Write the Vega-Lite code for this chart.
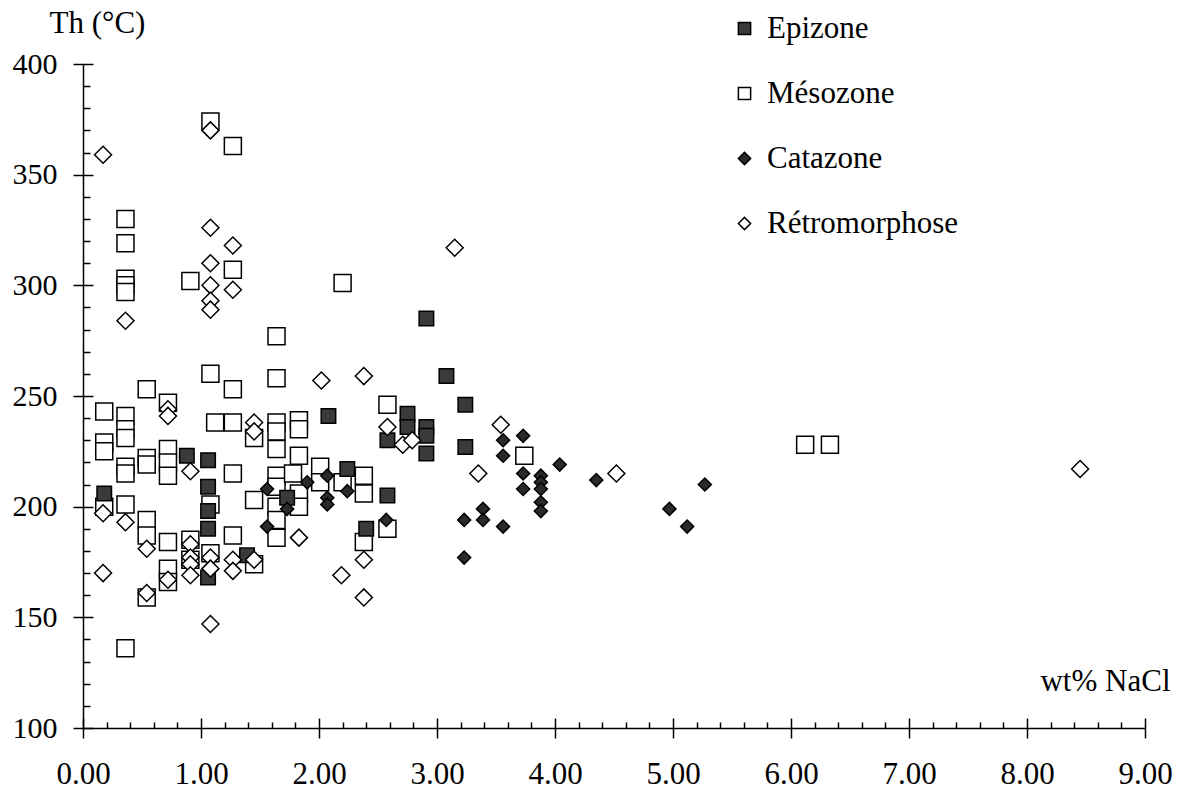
{
  "$schema": "https://vega.github.io/schema/vega-lite/v6.json",
  "width": 1062,
  "height": 664,
  "autosize": {"type": "none"},
  "padding": {"left": 83, "top": 64, "right": 36, "bottom": 64},
  "background": "white",
  "config": {
    "view": {"stroke": null},
    "font": "Liberation Serif",
    "axis": {"grid": false, "domainColor": "black", "domainWidth": 1.5, "tickColor": "black", "tickWidth": 1.5, "labelColor": "black", "labelFont": "Liberation Serif", "titleFont": "Liberation Serif", "titleColor": "black", "titleFontWeight": "normal", "labelOverlap": false, "labelFlush": false}
  },
  "data": {"values": [
    {"zone":"Mésozone","nacl":0.18,"th":243},{"zone":"Mésozone","nacl":0.18,"th":229},{"zone":"Mésozone","nacl":0.18,"th":225},{"zone":"Mésozone","nacl":0.18,"th":200},
    {"zone":"Mésozone","nacl":0.36,"th":330},{"zone":"Mésozone","nacl":0.36,"th":319},{"zone":"Mésozone","nacl":0.36,"th":303},{"zone":"Mésozone","nacl":0.36,"th":300},{"zone":"Mésozone","nacl":0.36,"th":297},{"zone":"Mésozone","nacl":0.36,"th":241},{"zone":"Mésozone","nacl":0.36,"th":235},{"zone":"Mésozone","nacl":0.36,"th":231},{"zone":"Mésozone","nacl":0.36,"th":218},{"zone":"Mésozone","nacl":0.36,"th":215},{"zone":"Mésozone","nacl":0.36,"th":201},{"zone":"Mésozone","nacl":0.36,"th":136},
    {"zone":"Mésozone","nacl":0.54,"th":253},{"zone":"Mésozone","nacl":0.54,"th":222},{"zone":"Mésozone","nacl":0.54,"th":219},{"zone":"Mésozone","nacl":0.54,"th":194},{"zone":"Mésozone","nacl":0.54,"th":187},{"zone":"Mésozone","nacl":0.54,"th":159},
    {"zone":"Mésozone","nacl":0.72,"th":247},{"zone":"Mésozone","nacl":0.72,"th":226},{"zone":"Mésozone","nacl":0.72,"th":220},{"zone":"Mésozone","nacl":0.72,"th":214},{"zone":"Mésozone","nacl":0.72,"th":184},{"zone":"Mésozone","nacl":0.72,"th":172},{"zone":"Mésozone","nacl":0.72,"th":166},
    {"zone":"Mésozone","nacl":0.91,"th":302},{"zone":"Mésozone","nacl":0.91,"th":185},{"zone":"Mésozone","nacl":0.91,"th":176},
    {"zone":"Mésozone","nacl":1.08,"th":374},{"zone":"Mésozone","nacl":1.08,"th":260},{"zone":"Mésozone","nacl":1.08,"th":201},{"zone":"Mésozone","nacl":1.08,"th":179},
    {"zone":"Mésozone","nacl":1.12,"th":238},
    {"zone":"Mésozone","nacl":1.27,"th":363},{"zone":"Mésozone","nacl":1.27,"th":307},{"zone":"Mésozone","nacl":1.27,"th":253},{"zone":"Mésozone","nacl":1.27,"th":238},{"zone":"Mésozone","nacl":1.27,"th":215},{"zone":"Mésozone","nacl":1.27,"th":187},
    {"zone":"Mésozone","nacl":1.45,"th":231},{"zone":"Mésozone","nacl":1.45,"th":203},{"zone":"Mésozone","nacl":1.45,"th":174},
    {"zone":"Mésozone","nacl":1.64,"th":277},{"zone":"Mésozone","nacl":1.64,"th":258},{"zone":"Mésozone","nacl":1.64,"th":238},{"zone":"Mésozone","nacl":1.64,"th":234},{"zone":"Mésozone","nacl":1.64,"th":226},{"zone":"Mésozone","nacl":1.64,"th":214},{"zone":"Mésozone","nacl":1.64,"th":209},{"zone":"Mésozone","nacl":1.64,"th":200},{"zone":"Mésozone","nacl":1.64,"th":194},{"zone":"Mésozone","nacl":1.64,"th":186},
    {"zone":"Mésozone","nacl":1.78,"th":215},
    {"zone":"Mésozone","nacl":1.83,"th":239},{"zone":"Mésozone","nacl":1.83,"th":235},{"zone":"Mésozone","nacl":1.83,"th":223},{"zone":"Mésozone","nacl":1.83,"th":206},{"zone":"Mésozone","nacl":1.83,"th":200},
    {"zone":"Mésozone","nacl":2.01,"th":218},{"zone":"Mésozone","nacl":2.01,"th":211},
    {"zone":"Mésozone","nacl":2.2,"th":301},{"zone":"Mésozone","nacl":2.2,"th":211},
    {"zone":"Mésozone","nacl":2.38,"th":214},{"zone":"Mésozone","nacl":2.38,"th":206},{"zone":"Mésozone","nacl":2.38,"th":184},
    {"zone":"Mésozone","nacl":2.58,"th":246},{"zone":"Mésozone","nacl":2.58,"th":190},
    {"zone":"Mésozone","nacl":3.74,"th":223},
    {"zone":"Mésozone","nacl":6.12,"th":228},{"zone":"Mésozone","nacl":6.33,"th":228},
    {"zone":"Epizone","nacl":0.18,"th":206},{"zone":"Epizone","nacl":0.88,"th":223},{"zone":"Epizone","nacl":1.06,"th":221},{"zone":"Epizone","nacl":1.06,"th":209},{"zone":"Epizone","nacl":1.06,"th":198},{"zone":"Epizone","nacl":1.06,"th":190},{"zone":"Epizone","nacl":1.06,"th":168},{"zone":"Epizone","nacl":1.39,"th":178},{"zone":"Epizone","nacl":1.73,"th":204},{"zone":"Epizone","nacl":2.08,"th":241},{"zone":"Epizone","nacl":2.24,"th":217},{"zone":"Epizone","nacl":2.4,"th":190},{"zone":"Epizone","nacl":2.58,"th":230},{"zone":"Epizone","nacl":2.58,"th":205},{"zone":"Epizone","nacl":2.75,"th":242},{"zone":"Epizone","nacl":2.75,"th":236},{"zone":"Epizone","nacl":2.91,"th":285},{"zone":"Epizone","nacl":2.91,"th":236},{"zone":"Epizone","nacl":2.91,"th":232},{"zone":"Epizone","nacl":2.91,"th":224},{"zone":"Epizone","nacl":3.08,"th":259},{"zone":"Epizone","nacl":3.24,"th":246},{"zone":"Epizone","nacl":3.24,"th":227},
    {"zone":"Catazone","nacl":1.56,"th":208},{"zone":"Catazone","nacl":1.56,"th":191},{"zone":"Catazone","nacl":1.73,"th":199},{"zone":"Catazone","nacl":1.9,"th":211},{"zone":"Catazone","nacl":2.07,"th":214},{"zone":"Catazone","nacl":2.07,"th":204},{"zone":"Catazone","nacl":2.07,"th":201},{"zone":"Catazone","nacl":2.24,"th":207},{"zone":"Catazone","nacl":2.57,"th":194},{"zone":"Catazone","nacl":3.23,"th":194},{"zone":"Catazone","nacl":3.23,"th":177},{"zone":"Catazone","nacl":3.39,"th":199},{"zone":"Catazone","nacl":3.39,"th":194},{"zone":"Catazone","nacl":3.56,"th":230},{"zone":"Catazone","nacl":3.56,"th":223},{"zone":"Catazone","nacl":3.56,"th":191},{"zone":"Catazone","nacl":3.73,"th":232},{"zone":"Catazone","nacl":3.73,"th":215},{"zone":"Catazone","nacl":3.73,"th":208},{"zone":"Catazone","nacl":3.88,"th":214},{"zone":"Catazone","nacl":3.88,"th":211},{"zone":"Catazone","nacl":3.88,"th":208},{"zone":"Catazone","nacl":3.88,"th":202},{"zone":"Catazone","nacl":3.88,"th":198},{"zone":"Catazone","nacl":4.04,"th":219},{"zone":"Catazone","nacl":4.35,"th":212},{"zone":"Catazone","nacl":4.97,"th":199},{"zone":"Catazone","nacl":5.12,"th":191},{"zone":"Catazone","nacl":5.27,"th":210},
    {"zone":"Rétromorphose","nacl":0.17,"th":359},{"zone":"Rétromorphose","nacl":0.17,"th":197},{"zone":"Rétromorphose","nacl":0.17,"th":170},{"zone":"Rétromorphose","nacl":0.36,"th":284},{"zone":"Rétromorphose","nacl":0.36,"th":193},{"zone":"Rétromorphose","nacl":0.54,"th":181},{"zone":"Rétromorphose","nacl":0.54,"th":161},{"zone":"Rétromorphose","nacl":0.72,"th":244},{"zone":"Rétromorphose","nacl":0.72,"th":241},{"zone":"Rétromorphose","nacl":0.72,"th":167},{"zone":"Rétromorphose","nacl":0.91,"th":216},{"zone":"Rétromorphose","nacl":0.91,"th":183},{"zone":"Rétromorphose","nacl":0.91,"th":177},{"zone":"Rétromorphose","nacl":0.91,"th":174},{"zone":"Rétromorphose","nacl":0.91,"th":169},{"zone":"Rétromorphose","nacl":1.08,"th":370},{"zone":"Rétromorphose","nacl":1.08,"th":326},{"zone":"Rétromorphose","nacl":1.08,"th":310},{"zone":"Rétromorphose","nacl":1.08,"th":300},{"zone":"Rétromorphose","nacl":1.08,"th":293},{"zone":"Rétromorphose","nacl":1.08,"th":289},{"zone":"Rétromorphose","nacl":1.08,"th":177},{"zone":"Rétromorphose","nacl":1.08,"th":172},{"zone":"Rétromorphose","nacl":1.08,"th":147},{"zone":"Rétromorphose","nacl":1.27,"th":318},{"zone":"Rétromorphose","nacl":1.27,"th":298},{"zone":"Rétromorphose","nacl":1.27,"th":176},{"zone":"Rétromorphose","nacl":1.27,"th":171},{"zone":"Rétromorphose","nacl":1.45,"th":238},{"zone":"Rétromorphose","nacl":1.45,"th":234},{"zone":"Rétromorphose","nacl":1.45,"th":176},{"zone":"Rétromorphose","nacl":1.83,"th":186},{"zone":"Rétromorphose","nacl":2.02,"th":257},{"zone":"Rétromorphose","nacl":2.19,"th":169},{"zone":"Rétromorphose","nacl":2.38,"th":259},{"zone":"Rétromorphose","nacl":2.38,"th":176},{"zone":"Rétromorphose","nacl":2.38,"th":159},{"zone":"Rétromorphose","nacl":2.58,"th":236},{"zone":"Rétromorphose","nacl":2.71,"th":228},{"zone":"Rétromorphose","nacl":2.79,"th":230},{"zone":"Rétromorphose","nacl":3.15,"th":317},{"zone":"Rétromorphose","nacl":3.35,"th":215},{"zone":"Rétromorphose","nacl":3.54,"th":237},{"zone":"Rétromorphose","nacl":4.52,"th":215},{"zone":"Rétromorphose","nacl":8.45,"th":217}
  ]},
  "resolve": {"axis": {"x": "independent", "y": "independent"}},
  "layer": [
    {
      "mark": {"type": "point", "opacity": 0},
      "encoding": {
        "x": {"field": "nacl", "type": "quantitative", "scale": {"domain": [0, 9], "nice": false, "zero": false},
          "axis": {"orient": "bottom", "values": [0,1,2,3,4,5,6,7,8,9], "tickSize": -10, "labels": false, "domain": false, "title": null}},
        "y": {"field": "th", "type": "quantitative", "scale": {"domain": [100, 400], "nice": false, "zero": false},
          "axis": {"orient": "left", "values": [110,120,130,140,160,170,180,190,210,220,230,240,260,270,280,290,310,320,330,340,360,370,380,390], "tickSize": -7, "labels": false, "domain": false, "title": null}}
      }
    },
    {
      "mark": {"type": "point", "opacity": 0},
      "encoding": {
        "x": {"field": "nacl", "type": "quantitative",
          "axis": {"orient": "bottom", "values": [0.2,0.4,0.6,0.8,1.2,1.4,1.6,1.8,2.2,2.4,2.6,2.8,3.2,3.4,3.6,3.8,4.2,4.4,4.6,4.8,5.2,5.4,5.6,5.8,6.2,6.4,6.6,6.8,7.2,7.4,7.6,7.8,8.2,8.4,8.6,8.8], "tickSize": -6, "labels": false, "domain": false, "title": null}},
        "y": {"field": "th", "type": "quantitative",
          "axis": {"orient": "left", "values": [100,150,200,250,300,350,400], "tickSize": -10, "labels": false, "domain": false, "title": null}}
      }
    },
    {
      "mark": {"type": "point", "filled": true, "stroke": "black", "strokeWidth": 1.5, "opacity": 1},
      "encoding": {
        "x": {
          "field": "nacl", "type": "quantitative",
          "axis": {
            "orient": "bottom",
            "values": [0,1,2,3,4,5,6,7,8,9],
            "format": ".2f",
            "labelFontSize": 31,
            "labelPadding": 21,
            "tickSize": 10,
            "title": "wt% NaCl",
            "titleFontSize": 31,
            "titleAnchor": "end",
            "titleAlign": "right",
            "titleBaseline": "alphabetic",
            "titleX": 1087,
            "titleY": -38
          }
        },
        "y": {
          "field": "th", "type": "quantitative",
          "axis": {
            "orient": "left",
            "values": [100,150,200,250,300,350,400],
            "labelFontSize": 30,
            "labelPadding": 16,
            "tickSize": 10,
            "title": "Th (°C)",
            "titleFontSize": 31,
            "titleAngle": 0,
            "titleAlign": "left",
            "titleBaseline": "alphabetic",
            "titleX": -34,
            "titleY": -32
          }
        },
        "shape": {
          "field": "zone", "type": "nominal",
          "scale": {"domain": ["Epizone","Mésozone","Catazone","Rétromorphose"], "range": ["square","square","diamond","diamond"]},
          "legend": {
            "title": null, "orient": "none", "legendX": 646, "legendY": -51, "padding": 0,
            "labelFontSize": 31, "labelFont": "Liberation Serif", "labelColor": "black", "labelOffset": 7, "labelLimit": 500,
            "rowPadding": 33, "symbolSize": 150, "symbolStrokeWidth": 1.5
          }
        },
        "fill": {
          "field": "zone", "type": "nominal",
          "scale": {"domain": ["Epizone","Mésozone","Catazone","Rétromorphose"], "range": ["#3a3a3a","#ffffff","#2a2a2a","#ffffff"]}
        },
        "stroke": {
          "field": "zone", "type": "nominal",
          "scale": {"domain": ["Epizone","Mésozone","Catazone","Rétromorphose"], "range": ["#000000","#000000","#000000","#000000"]}
        },
        "size": {
          "condition": [
            {"test": "datum.zone === 'Epizone'", "value": 210},
            {"test": "datum.zone === 'Catazone'", "value": 170}
          ],
          "value": 289
        }
      }
    }
  ]
}
